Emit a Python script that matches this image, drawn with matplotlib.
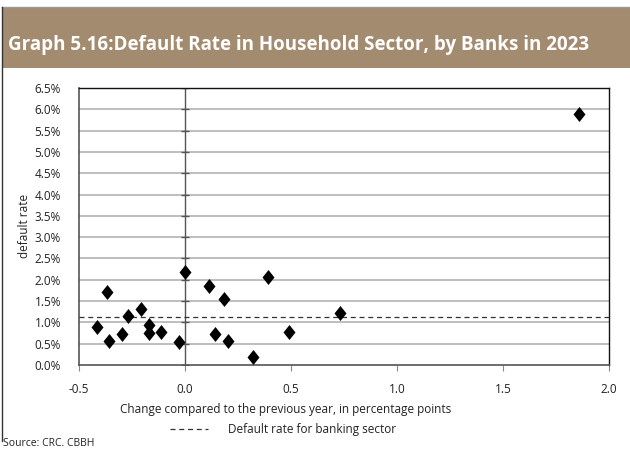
import matplotlib
matplotlib.use("Agg")
import matplotlib.pyplot as plt
from matplotlib.patches import Rectangle
from matplotlib.lines import Line2D
import numpy as np

plt.rcParams['font.family'] = ['Open Sans', 'DejaVu Sans']

# Data: change vs previous year (pp) and default rate (%)
change_pp = [-0.414, -0.366, -0.358, -0.296, -0.270, -0.208, -0.170, -0.170,
             -0.115, -0.027, 0.000, 0.115, 0.184, 0.140, 0.204, 0.319,
             0.390, 0.489, 0.731, 1.860]
default_rate = [0.90, 1.72, 0.57, 0.72, 1.15, 1.31, 0.94, 0.74,
                0.78, 0.55, 2.18, 1.86, 1.55, 0.73, 0.57, 0.195,
                2.07, 0.77, 1.21, 5.89]
sector_rate = 1.13

x_ticks = [-0.5, 0.0, 0.5, 1.0, 1.5, 2.0]
x_labels = ["-0.5", "0.0", "0.5", "1.0", "1.5", "2.0"]
y_ticks = list(np.arange(0, 6.51, 0.5))
y_labels = [f"{v:.1f}%" for v in y_ticks]

title = "Graph 5.16:Default Rate in Household Sector, by Banks in 2023"
x_title = "Change compared to the previous year, in percentage points"
y_title = "default rate"
legend_label = "Default rate for banking sector"
source = "Source: CRC. CBBH"

W, H = 630, 450
fig = plt.figure(figsize=(W / 100, H / 100), dpi=100)

def fx(px):
    return px / W

def fy(py):
    return 1 - py / H

# Title band
fig.patches.append(Rectangle((fx(2), fy(68)), 1 - fx(2), fy(8) - fy(68),
                             transform=fig.transFigure, facecolor="#A38B70",
                             edgecolor="none", zorder=0))
fig.lines.append(Line2D([fx(2), 1], [fy(7), fy(7)], transform=fig.transFigure,
                        color="#9a9a9a", lw=1.0))
fig.lines.append(Line2D([fx(1.5), fx(1.5)], [fy(7), fy(441)], transform=fig.transFigure,
                        color="#333333", lw=1.0))
fig.text(fx(8), fy(45), title, color="white", fontsize=13.5, fontweight="bold",
         ha="left", va="center")

ax = fig.add_axes([fx(79), fy(365), fx(609) - fx(79), fy(88) - fy(365)])
ax.set_xlim(-0.5, 2.0)
ax.set_ylim(0, 6.5)

# grid
for yv in y_ticks[1:-1]:
    ax.axhline(yv, color="#b3b3b3", lw=1.2, zorder=1)

# y-axis at x=0 with cross ticks
ax.axvline(0, color="#555555", lw=1.0, zorder=2)
ax.plot([0] * len(y_ticks), y_ticks, ls="none", marker="_", ms=6, mew=1.0,
        color="#555555", zorder=2)

# sector line
ax.axhline(sector_rate, color="#333333", lw=0.9, ls=(0, (4, 3)), zorder=3)

diamond = [(0, 1), (0.8, 0), (0, -1), (-0.8, 0), (0, 1)]
ax.scatter(change_pp, default_rate, marker=diamond, s=10.8 ** 2, color="black",
           zorder=4, linewidths=0)

ax.set_xticks(x_ticks)
ax.set_xticklabels(x_labels)
ax.set_yticks(y_ticks)
ax.set_yticklabels(y_labels)
ax.tick_params(axis="x", direction="out", length=4, color="#888888", pad=9,
               labelsize=8.5, labelcolor="#222222")
ax.tick_params(axis="y", length=0, pad=13, labelsize=8.5, labelcolor="#222222")

for side in ["left", "bottom"]:
    ax.spines[side].set_color("#555555")
    ax.spines[side].set_linewidth(1.2)
for side in ["top", "right"]:
    ax.spines[side].set_color("#111111")
    ax.spines[side].set_linewidth(1.0)

fig.text(fx(25), fy(226), y_title, rotation=90, ha="center", va="center",
         fontsize=8.5, color="#222222")
fig.text(fx(286), fy(410), x_title, ha="center", va="center", fontsize=8.5,
         color="#222222")
fig.lines.append(Line2D([fx(170), fx(208)], [fy(429), fy(429)],
                        transform=fig.transFigure, color="#333333", lw=0.9,
                        ls=(0, (4, 3))))
fig.text(fx(228), fy(429), legend_label, ha="left", va="center", fontsize=8.5,
         color="#222222")
fig.text(fx(3), fy(444), source, ha="left", va="center", fontsize=7.5,
         color="#222222")

fig.savefig("out.png", dpi=100)
